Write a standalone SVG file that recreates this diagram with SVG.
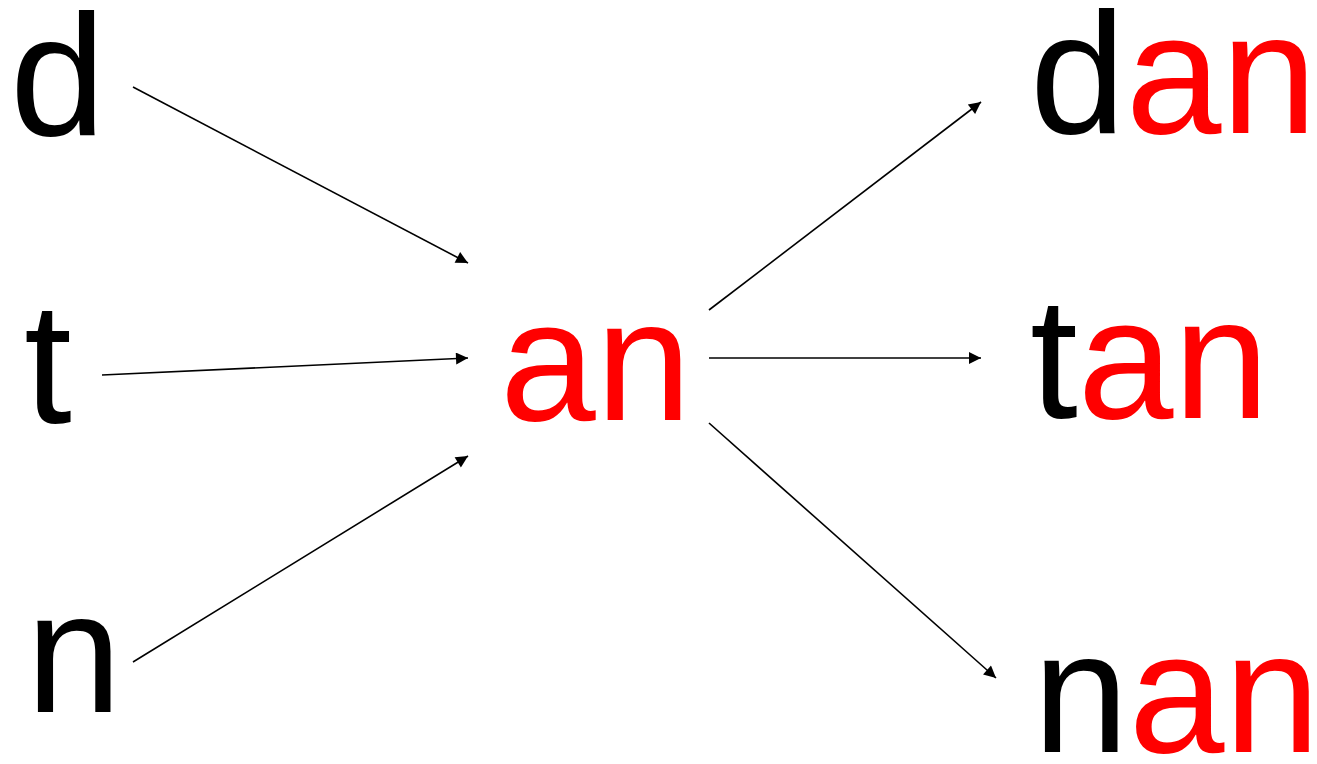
<svg xmlns="http://www.w3.org/2000/svg" width="1317" height="764" viewBox="0 0 1317 764">
<style>
.t{font-family:"Comic Sans MS","Liberation Sans",Arial,sans-serif;font-size:172px;fill:#000}
.r{fill:#ff0000}
.k{font-family:"Liberation Sans",Arial,sans-serif}
.c{stroke:#000;stroke-width:1.6;fill:none;marker-end:url(#ah)}
</style>
<defs>
<marker id="ah" viewBox="0 0 10 10" refX="10" refY="5" markerUnits="userSpaceOnUse" markerWidth="16" markerHeight="12" orient="auto">
<path d="M0,0 L10,5 L0,10 Z" fill="#000"/>
</marker>
</defs>
<rect width="1317" height="764" fill="#fff"/>
<g id="connectors">
<line class="c" x1="133" y1="87" x2="468" y2="263"/>
<line class="c" x1="102" y1="375" x2="468" y2="358"/>
<line class="c" x1="133" y1="662" x2="468" y2="456"/>
<line class="c" x1="709" y1="310" x2="981" y2="102"/>
<line class="c" x1="709" y1="358" x2="981" y2="358"/>
<line class="c" x1="709" y1="423" x2="996" y2="678"/>
</g>
<g id="node-d"><text class="t k" x="10" y="135">d</text></g>
<g id="node-t"><text class="t k" x="24" y="423">t</text></g>
<g id="node-n"><text class="t k" x="26" y="712">n</text></g>
<g id="node-an"><text class="t r" x="500" y="420">an</text></g>
<g id="node-dan"><text class="t" x="1030" y="133"><tspan class="k">d</tspan><tspan class="r">an</tspan></text></g>
<g id="node-tan"><text class="t" x="1030" y="418"><tspan class="k">t</tspan><tspan class="r">an</tspan></text></g>
<g id="node-nan"><text class="t" x="1033" y="752"><tspan class="k">n</tspan><tspan class="r">an</tspan></text></g>
</svg>
